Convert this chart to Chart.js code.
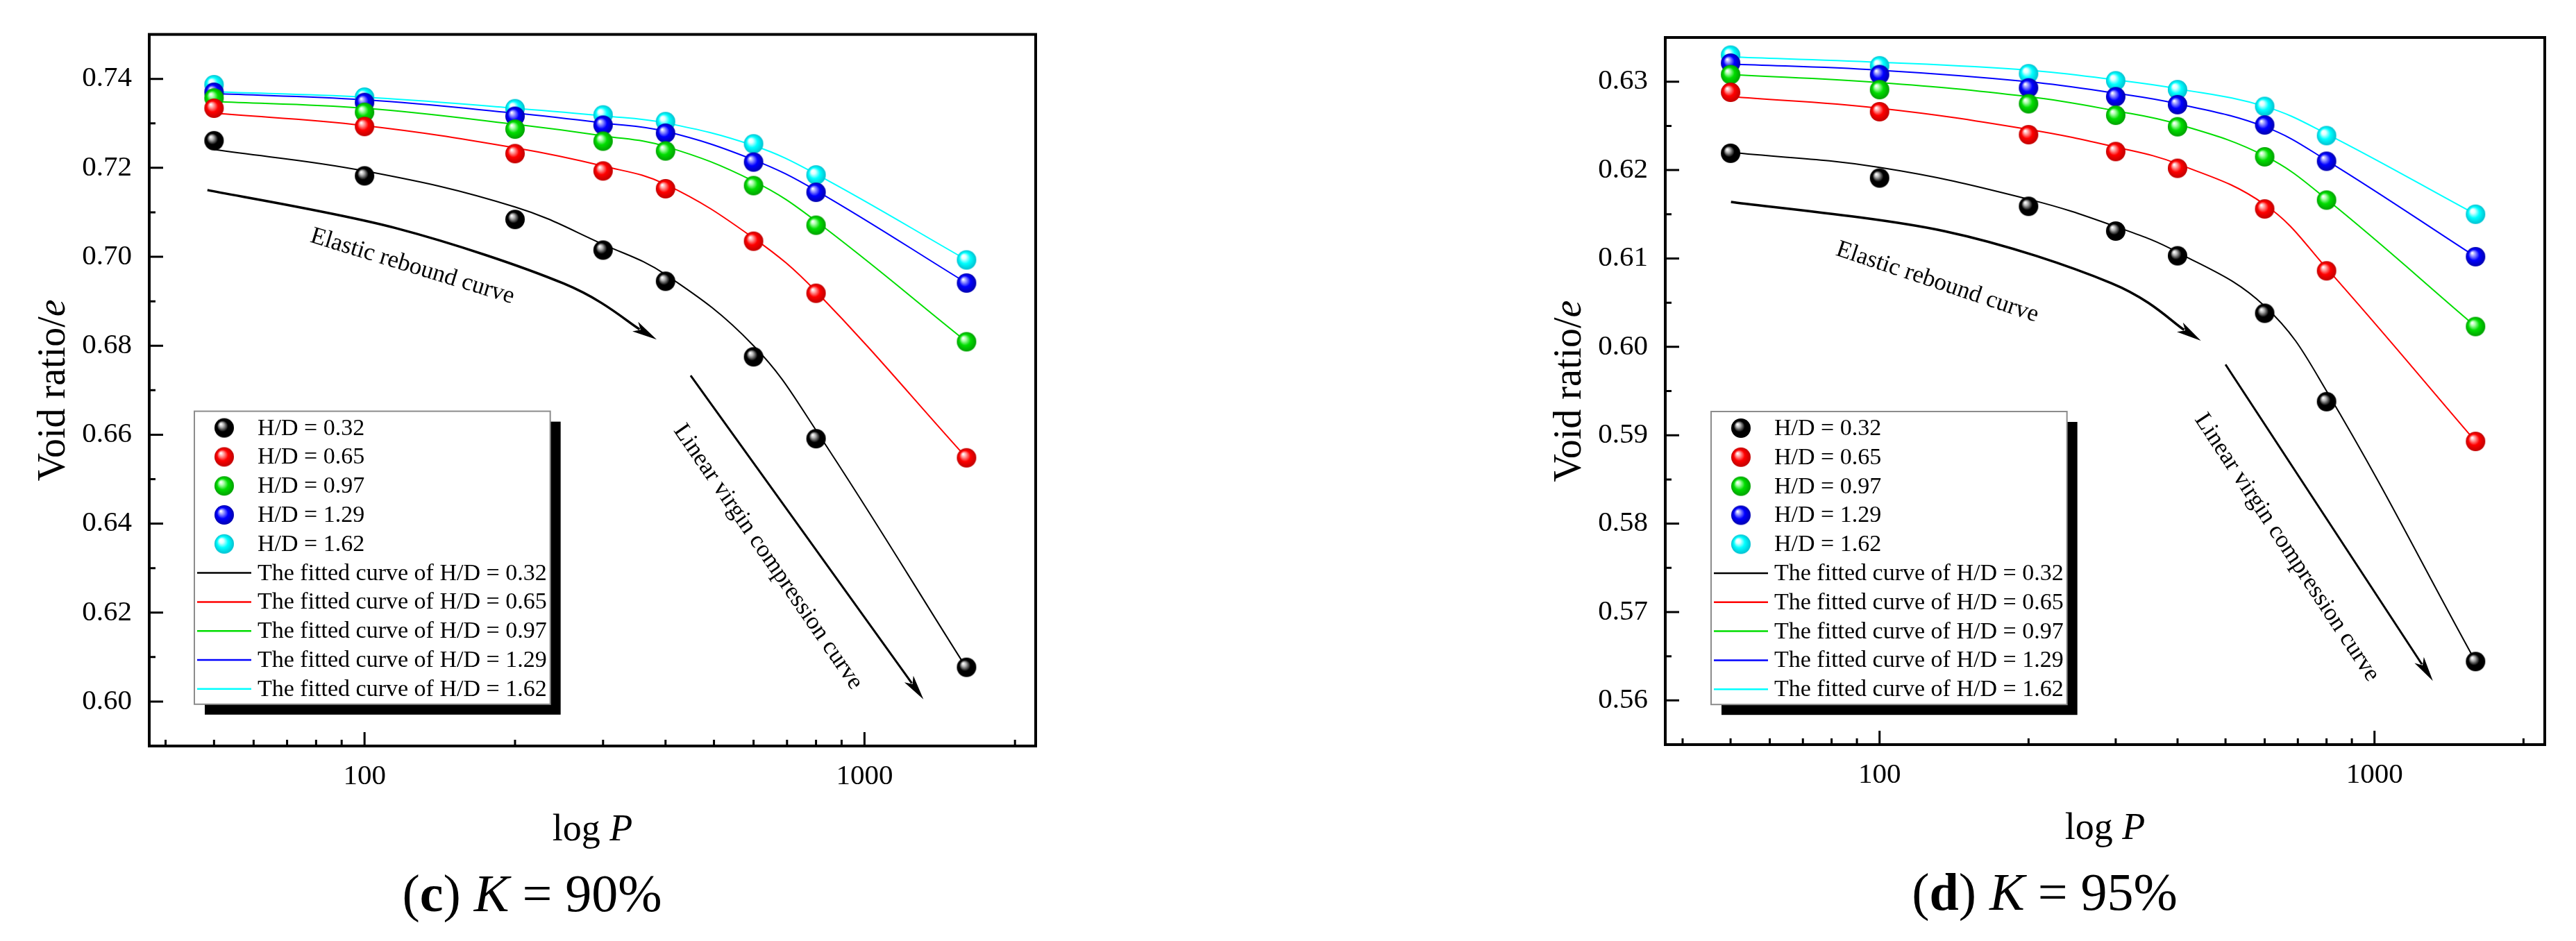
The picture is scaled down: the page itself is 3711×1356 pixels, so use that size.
<!DOCTYPE html>
<html>
<head>
<meta charset="utf-8">
<script src="https://cdn.jsdelivr.net/npm/chart.js@4.4.1/dist/chart.umd.min.js"></script>
<style>
  html, body { margin: 0; padding: 0; background: #fff; }
  #wrap { position: relative; width: 3711px; height: 1356px; }
  canvas { position: absolute; top: 0; }
</style>
</head>
<body>
<div id="wrap">
  <canvas id="chartC" width="1855" height="1356" style="left:0"></canvas>
  <canvas id="chartD" width="1856" height="1356" style="left:1855px"></canvas>
</div>
<script>
// load steps P (kPa), same for every series
var pressures = [50, 100, 200, 300, 400, 600, 800, 1600];
var ratioLabels = ['0.32', '0.65', '0.97', '1.29', '1.62'];

// (c) K = 90% : measured void ratio e
var c90_032 = [0.7261, 0.7182, 0.7084, 0.7015, 0.6945, 0.6775, 0.6591, 0.6077];
var c90_065 = [0.7334, 0.7293, 0.7232, 0.7193, 0.7153, 0.7035, 0.6918, 0.6548];
var c90_097 = [0.7357, 0.7325, 0.7287, 0.7260, 0.7238, 0.7160, 0.7071, 0.6809];
var c90_129 = [0.7370, 0.7347, 0.7316, 0.7296, 0.7278, 0.7213, 0.7145, 0.6941];
var c90_162 = [0.7387, 0.7359, 0.7333, 0.7319, 0.7304, 0.7254, 0.7184, 0.6993];
// (c) fitted curves, read at the same loads
var c90Fit032 = [0.7241, 0.7193, 0.7112, 0.7028, 0.6960, 0.6800, 0.6610, 0.6075];
var c90Fit065 = [0.7323, 0.7295, 0.7245, 0.7204, 0.7163, 0.7042, 0.6922, 0.6548];
var c90Fit097 = [0.7349, 0.7334, 0.7298, 0.7272, 0.7248, 0.7170, 0.7080, 0.6809];
var c90Fit129 = [0.7367, 0.7353, 0.7323, 0.7301, 0.7282, 0.7218, 0.7149, 0.6941];
var c90Fit162 = [0.7371, 0.7359, 0.7334, 0.7317, 0.7301, 0.7250, 0.7186, 0.6993];

// (d) K = 95% : measured void ratio e
var d95_032 = [0.6219, 0.6191, 0.6159, 0.6131, 0.6103, 0.6038, 0.5938, 0.5644];
var d95_065 = [0.6288, 0.6266, 0.6240, 0.6221, 0.6202, 0.6156, 0.6086, 0.5893];
var d95_097 = [0.6308, 0.6291, 0.6275, 0.6262, 0.6249, 0.6215, 0.6166, 0.6023];
var d95_129 = [0.6321, 0.6308, 0.6293, 0.6283, 0.6274, 0.6251, 0.6210, 0.6102];
var d95_162 = [0.6330, 0.6318, 0.6309, 0.6301, 0.6291, 0.6272, 0.6239, 0.6150];
// (d) fitted curves
var d95Fit032 = [0.6220, 0.6203, 0.6167, 0.6136, 0.6107, 0.6046, 0.5950, 0.5644];
var d95Fit065 = [0.6283, 0.6270, 0.6246, 0.6226, 0.6207, 0.6161, 0.6089, 0.5893];
var d95Fit097 = [0.6308, 0.6299, 0.6283, 0.6267, 0.6252, 0.6216, 0.6167, 0.6023];
var d95Fit129 = [0.6320, 0.6313, 0.6300, 0.6287, 0.6275, 0.6249, 0.6211, 0.6102];
var d95Fit162 = [0.6328, 0.6322, 0.6313, 0.6302, 0.6292, 0.6272, 0.6241, 0.6150];

// axis ticks
var xTickValues = [100, 1000];
var xMinorValues = [40, 50, 60, 70, 80, 90, 200, 300, 400, 500, 600, 700, 800, 900, 2000];
var yTicksC = [0.60, 0.62, 0.64, 0.66, 0.68, 0.70, 0.72, 0.74];
var yTicksD = [0.56, 0.57, 0.58, 0.59, 0.60, 0.61, 0.62, 0.63];

var FONT = '"Liberation Serif", "Times New Roman", serif';
var lineColors = ['#000000', '#ff0000', '#00dd00', '#0000ff', '#00ffff'];
var ballLight = ['#b8b8b8', '#ffa8a8', '#b0ffb0', '#a0a0ff', '#e0ffff'];
var ballDark = ['#000000', '#c00000', '#00a000', '#0000b0', '#00c0d0'];

function makeBall(i) {
    var r = 14, size = 30;
    var c = document.createElement('canvas');
    c.width = size; c.height = size;
    var g = c.getContext('2d');
    var grad = g.createRadialGradient(size / 2 - 5, size / 2 - 5.5, 0.5, size / 2, size / 2, r);
    grad.addColorStop(0, '#ffffff');
    grad.addColorStop(0.2, ballLight[i]);
    grad.addColorStop(0.55, lineColors[i]);
    grad.addColorStop(1, ballDark[i]);
    g.fillStyle = grad;
    g.beginPath();
    g.arc(size / 2, size / 2, r, 0, Math.PI * 2);
    g.fill();
    return c;
}
var balls = lineColors.map(function (c, i) { return makeBall(i); });

// draw a string made of runs with different font styles, centred on (x, y)
function drawRich(ctx, runs, x, y, angle) {
    ctx.save();
    ctx.translate(x, y);
    ctx.rotate(angle || 0);
    ctx.textBaseline = 'middle';
    ctx.textAlign = 'left';
    var total = 0;
    runs.forEach(function (r) { ctx.font = r[1]; total += ctx.measureText(r[0]).width; });
    var cx = -total / 2;
    runs.forEach(function (r) {
        ctx.font = r[1];
        ctx.fillText(r[0], cx, 0);
        cx += ctx.measureText(r[0]).width;
    });
    ctx.restore();
}

function smoothPath(ctx, pts) {
    ctx.moveTo(pts[0][0], pts[0][1]);
    for (var i = 0; i < pts.length - 1; i++) {
        var p0 = pts[Math.max(i - 1, 0)], p1 = pts[i], p2 = pts[i + 1], p3 = pts[Math.min(i + 2, pts.length - 1)];
        ctx.bezierCurveTo(p1[0] + (p2[0] - p0[0]) / 6, p1[1] + (p2[1] - p0[1]) / 6,
            p2[0] - (p3[0] - p1[0]) / 6, p2[1] - (p3[1] - p1[1]) / 6, p2[0], p2[1]);
    }
}

function arrow(ctx, pts, width) {
    var n = pts.length;
    var tip = pts[n - 1], prev = pts[n - 2];
    var ang = Math.atan2(tip[1] - prev[1], tip[0] - prev[0]);
    var len = 36, half = 8;
    var base = [tip[0] - Math.cos(ang) * len * 0.8, tip[1] - Math.sin(ang) * len * 0.8];
    var shaft = pts.slice(0, n - 1).concat([base]);
    ctx.lineWidth = width;
    ctx.beginPath();
    smoothPath(ctx, shaft);
    ctx.stroke();
    ctx.beginPath();
    ctx.moveTo(tip[0], tip[1]);
    ctx.lineTo(tip[0] - Math.cos(ang) * len + Math.sin(ang) * half, tip[1] - Math.sin(ang) * len - Math.cos(ang) * half);
    ctx.lineTo(tip[0] - Math.cos(ang) * len * 0.75, tip[1] - Math.sin(ang) * len * 0.75);
    ctx.lineTo(tip[0] - Math.cos(ang) * len - Math.sin(ang) * half, tip[1] - Math.sin(ang) * len + Math.cos(ang) * half);
    ctx.closePath();
    ctx.fill();
}

var decorPlugin = {
    id: 'decor',
    afterDraw: function (chart) {
        var o = chart.options.plugins.decor;
        var ctx = chart.ctx, a = chart.chartArea, xs = chart.scales.x, ys = chart.scales.y;
        var px = function (p) { return [xs.getPixelForValue(p[0]), ys.getPixelForValue(p[1])]; };
        ctx.save();
        ctx.strokeStyle = '#000';
        ctx.fillStyle = '#000';

        // inward tick marks
        ctx.lineWidth = 3;
        ctx.beginPath();
        o.yMajor.forEach(function (v) {
            var y = ys.getPixelForValue(v);
            ctx.moveTo(a.left, y); ctx.lineTo(a.left + 20, y);
            var m = ys.getPixelForValue(v + o.yMinorStep);
            if (m > a.top + 3) { ctx.moveTo(a.left, m); ctx.lineTo(a.left + 9, m); }
        });
        xTickValues.forEach(function (v) {
            var x = xs.getPixelForValue(v);
            ctx.moveTo(x, a.bottom); ctx.lineTo(x, a.bottom - 20);
        });
        xMinorValues.forEach(function (v) {
            var x = xs.getPixelForValue(v);
            ctx.moveTo(x, a.bottom); ctx.lineTo(x, a.bottom - 9);
        });
        ctx.stroke();

        // frame
        ctx.lineWidth = 4;
        ctx.strokeRect(a.left, a.top, a.right - a.left, a.bottom - a.top);

        // annotation arrows and labels
        arrow(ctx, o.rebound.map(px), 3.5);
        arrow(ctx, o.virgin.map(px), 3);
        var t1 = px(o.reboundText), t2 = px(o.virginText);
        drawRich(ctx, [['Elastic rebound curve', '35px ' + FONT]], t1[0], t1[1], o.reboundAngle * Math.PI / 180);
        drawRich(ctx, [['Linear virgin compression curve', '35px ' + FONT]], t2[0], t2[1], o.virginAngle * Math.PI / 180);

        // legend box with drop shadow
        var lx = a.left + o.legendOffset[0], ly = a.top + o.legendOffset[1];
        var sets = chart.data.datasets;
        ctx.font = '34px ' + FONT;
        var tw = 0;
        sets.forEach(function (d) { tw = Math.max(tw, ctx.measureText(d.label).width); });
        var bw = 92 + tw + 4, rowH = 41.8, bh = 24 + rowH * (sets.length - 1) + 22;
        ctx.fillRect(lx + 15, ly + 15, bw, bh);
        ctx.fillStyle = '#fff';
        ctx.fillRect(lx, ly, bw, bh);
        ctx.strokeStyle = '#8c8c8c';
        ctx.lineWidth = 2;
        ctx.strokeRect(lx, ly, bw, bh);
        ctx.textBaseline = 'middle';
        ctx.textAlign = 'left';
        sets.forEach(function (d, i) {
            var y = ly + 24 + i * rowH;
            if (d.showLine) {
                ctx.strokeStyle = d.borderColor;
                ctx.lineWidth = 2.5;
                ctx.beginPath(); ctx.moveTo(lx + 4, y); ctx.lineTo(lx + 82, y); ctx.stroke();
            } else {
                ctx.drawImage(d.pointStyle, lx + 43 - 15, y - 15);
            }
            ctx.fillStyle = '#000';
            ctx.fillText(d.label, lx + 91, y + 1);
        });

        // axis titles and caption
        var cx = (a.left + a.right) / 2, cy = (a.top + a.bottom) / 2;
        drawRich(ctx, [['Void ratio/', '56px ' + FONT], ['e', 'italic 56px ' + FONT]], a.left - 137, cy, -Math.PI / 2);
        drawRich(ctx, [['log ', '54px ' + FONT], ['P', 'italic 54px ' + FONT]], cx, a.bottom + 122);
        drawRich(ctx, [['(', '76px ' + FONT], [o.panel, 'bold 76px ' + FONT], [') ', '76px ' + FONT],
            ['K', 'italic 76px ' + FONT], [' = ' + o.kValue, '76px ' + FONT]], cx - 87, a.bottom + 218);
        ctx.restore();
    }
};

function buildChart(id, measured, fitted, cfg) {
    var datasets = [];
    measured.forEach(function (vals, i) {
        datasets.push({
            label: 'H/D = ' + ratioLabels[i],
            data: pressures.map(function (p, j) { return { x: p, y: vals[j] }; }),
            showLine: false,
            pointStyle: balls[i],
            pointRadius: 14,
            order: 1
        });
    });
    fitted.forEach(function (vals, i) {
        datasets.push({
            label: 'The fitted curve of H/D = ' + ratioLabels[i],
            data: pressures.map(function (p, j) { return { x: p, y: vals[j] }; }),
            showLine: true,
            borderColor: lineColors[i],
            backgroundColor: lineColors[i],
            borderWidth: 2,
            pointRadius: 0,
            tension: 0.4,
            order: 2
        });
    });

    var canvas = document.getElementById(id);
    return new Chart(canvas.getContext('2d'), {
        type: 'scatter',
        data: { datasets: datasets },
        options: {
            responsive: false,
            animation: false,
            devicePixelRatio: 1,
            layout: { padding: { left: 0, top: cfg.top, right: canvas.width - cfg.right, bottom: 0 } },
            plugins: {
                legend: { display: false },
                tooltip: { enabled: false },
                decor: cfg.decor
            },
            scales: {
                x: {
                    type: 'logarithmic',
                    min: cfg.xMin,
                    max: cfg.xMax,
                    afterBuildTicks: function (scale) {
                        scale.ticks = xTickValues.map(function (v) { return { value: v, major: true }; });
                    },
                    afterFit: function (scale) { scale.height = canvas.height - cfg.bottom; },
                    grid: { display: false, drawTicks: false },
                    border: { display: false },
                    ticks: {
                        autoSkip: false,
                        maxRotation: 0,
                        padding: 20,
                        color: '#000',
                        font: { family: FONT, size: 41 },
                        callback: function (v) { return String(v); }
                    }
                },
                y: {
                    type: 'linear',
                    min: cfg.yMin,
                    max: cfg.yMax,
                    afterBuildTicks: function (scale) {
                        scale.ticks = cfg.yTicks.map(function (v) { return { value: v }; });
                    },
                    afterFit: function (scale) { scale.width = cfg.left; },
                    grid: { display: false, drawTicks: false },
                    border: { display: false },
                    ticks: {
                        autoSkip: false,
                        padding: 25,
                        color: '#000',
                        font: { family: FONT, size: 41 },
                        callback: function (v) { return v.toFixed(2); }
                    }
                }
            }
        },
        plugins: [decorPlugin]
    });
}

buildChart('chartC',
    [c90_032, c90_065, c90_097, c90_129, c90_162],
    [c90Fit032, c90Fit065, c90Fit097, c90Fit129, c90Fit162],
    {
        left: 215, right: 1492, top: 49, bottom: 1075,
        xMin: 37.1, xMax: 2200, yMin: 0.59, yMax: 0.75, yTicks: yTicksC,
        decor: {
            yMajor: yTicksC, yMinorStep: 0.01,
            rebound: [[48.5, 0.7150], [115, 0.7065], [250, 0.6940], [384, 0.6814]],
            virgin: [[449, 0.6733], [1312, 0.6005]],
            reboundText: [124.7, 0.6978], reboundAngle: 17,
            virginText: [641, 0.6325], virginAngle: 55.5,
            legendOffset: [65, 543],
            panel: 'c', kValue: '90%'
        }
    });

buildChart('chartD',
    [d95_032, d95_065, d95_097, d95_129, d95_162],
    [d95Fit032, d95Fit065, d95Fit097, d95Fit129, d95Fit162],
    {
        left: 544, right: 1811, top: 54, bottom: 1073,
        xMin: 36.9, xMax: 2208, yMin: 0.555, yMax: 0.635, yTicks: yTicksD,
        decor: {
            yMajor: yTicksD, yMinorStep: 0.005,
            rebound: [[50.1, 0.6164], [135, 0.6131], [294, 0.6072], [446, 0.6007]],
            virgin: [[500, 0.5980], [1312, 0.5622]],
            reboundText: [130.8, 0.6073], reboundAngle: 18.5,
            virginText: [665, 0.5773], virginAngle: 56.5,
            legendOffset: [66, 539],
            panel: 'd', kValue: '95%'
        }
    });
</script>
</body>
</html>
